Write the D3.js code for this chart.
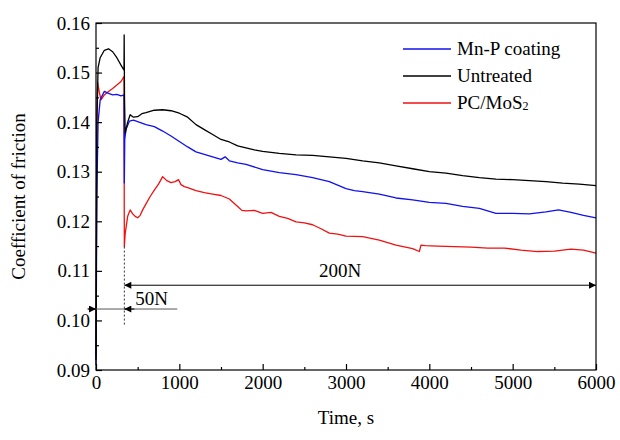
<!DOCTYPE html>
<html>
<head>
<meta charset="utf-8">
<script src="https://cdn.jsdelivr.net/npm/d3@7"></script>
<style>
  html, body { margin: 0; padding: 0; background: #fff; }
  svg { display: block; }
  text { font-family: "Liberation Serif", "Times New Roman", serif; fill: #000; }
</style>
</head>
<body>
<div id="chart"></div>
<script>
// ---- data ----
const xTicks = [0, 1000, 2000, 3000, 4000, 5000, 6000];
const yTicks = [0.09, 0.10, 0.11, 0.12, 0.13, 0.14, 0.15, 0.16];

const untreatedT = [0, 10, 25, 50, 100, 150, 200, 250, 300, 336, 338, 342, 350, 380, 410, 450, 500, 550, 600, 700, 800, 900, 1000, 1100, 1200, 1300, 1400, 1500, 1600, 1700, 1800, 1900, 2000, 2200, 2400, 2600, 2800, 3000, 3200, 3400, 3600, 3800, 4000, 4200, 4400, 4600, 4800, 5000, 5200, 5400, 5600, 5800, 6000];
const untreatedV = [0.092, 0.140, 0.151, 0.153, 0.1545, 0.1548, 0.1542, 0.1530, 0.1515, 0.1505, 0.1576, 0.145, 0.1378, 0.1400, 0.1415, 0.1410, 0.1411, 0.1417, 0.1419, 0.1424, 0.1425, 0.1423, 0.1418, 0.1410, 0.1395, 0.1385, 0.1375, 0.1365, 0.1360, 0.1352, 0.1348, 0.1344, 0.1341, 0.1337, 0.1334, 0.1333, 0.1330, 0.1327, 0.1322, 0.1318, 0.1312, 0.1306, 0.1300, 0.1297, 0.1292, 0.1288, 0.1285, 0.1284, 0.1282, 0.1280, 0.1277, 0.1275, 0.1272];

const mnpT = [0, 10, 25, 50, 100, 150, 200, 250, 300, 336, 340, 345, 360, 400, 450, 500, 600, 700, 800, 900, 1000, 1100, 1200, 1300, 1400, 1500, 1550, 1600, 1700, 1800, 2000, 2200, 2400, 2600, 2800, 3000, 3100, 3200, 3400, 3600, 3800, 4000, 4200, 4400, 4600, 4800, 5000, 5200, 5400, 5550, 5700, 5850, 6000];
const mnpV = [0.091, 0.125, 0.140, 0.1445, 0.1462, 0.1458, 0.1455, 0.1456, 0.1453, 0.1455, 0.1277, 0.1365, 0.1385, 0.1402, 0.1404, 0.1401, 0.1395, 0.1391, 0.1382, 0.1372, 0.1361, 0.1350, 0.1340, 0.1335, 0.1330, 0.1325, 0.1330, 0.1322, 0.1318, 0.1315, 0.1304, 0.1298, 0.1294, 0.1288, 0.1280, 0.1266, 0.1262, 0.1260, 0.1255, 0.1247, 0.1243, 0.1238, 0.1236, 0.1230, 0.1226, 0.1216, 0.1216, 0.1215, 0.1219, 0.1223, 0.1218, 0.1212, 0.1207];

const pcT = [0, 10, 20, 40, 60, 100, 150, 200, 250, 300, 336, 340, 350, 380, 410, 440, 470, 500, 530, 560, 600, 650, 700, 750, 800, 850, 900, 950, 990, 1020, 1060, 1100, 1200, 1300, 1400, 1500, 1600, 1700, 1750, 1800, 1900, 2000, 2100, 2200, 2300, 2400, 2500, 2600, 2700, 2800, 2900, 3000, 3200, 3400, 3600, 3800, 3880, 3900, 3950, 4100, 4300, 4500, 4700, 4900, 5100, 5300, 5500, 5700, 5850, 6000];
const pcV = [0.093, 0.140, 0.148, 0.146, 0.1445, 0.1455, 0.1462, 0.1468, 0.1475, 0.1482, 0.1492, 0.1149, 0.1175, 0.1210, 0.1223, 0.1215, 0.1210, 0.1207, 0.1212, 0.1223, 0.1235, 0.1250, 0.1263, 0.1275, 0.1290, 0.1282, 0.1278, 0.1280, 0.1284, 0.1274, 0.1270, 0.1268, 0.1262, 0.1258, 0.1255, 0.1252, 0.1245, 0.1230, 0.1222, 0.1221, 0.1222, 0.1216, 0.1218, 0.1210, 0.1206, 0.1199, 0.1197, 0.1193, 0.1185, 0.1176, 0.1174, 0.1170, 0.1169, 0.1162, 0.1152, 0.1145, 0.1139, 0.1152, 0.1151, 0.1150, 0.1149, 0.1148, 0.1146, 0.1146, 0.1142, 0.1139, 0.1140, 0.1144, 0.1142, 0.1136];

const seriesNames = ["Mn-P coating", "Untreated", "PC/MoS2"];
const seriesColors = ["#1010f0", "#000000", "#f01010"];

// annotations (data units)
const loadChangeT = 340;
const dashedFrom = 0.1149, dashedTo = 0.0991;
const arrow200Y = 0.1071, arrow200From = 340, arrow200To = 6000;
const arrow50Y = 0.1023, arrow50Left = -100, arrow50Right = 975;
const label200 = "200N", label50 = "50N";

// ---- drawing ----
const W = 620, H = 440;
const m = { left: 96, right: 24, top: 23, bottom: 70 };
const svg = d3.select("#chart").append("svg").attr("width", W).attr("height", H);

const x = d3.scaleLinear().domain([0, 6000]).range([m.left, W - m.right]);
const y = d3.scaleLinear().domain([0.09, 0.16]).range([H - m.bottom, m.top]);

const defs = svg.append("defs");
defs.append("marker").attr("id", "ah").attr("viewBox", "0 0 10 10")
  .attr("refX", 10).attr("refY", 5).attr("markerWidth", 9).attr("markerHeight", 7)
  .attr("markerUnits", "userSpaceOnUse").attr("orient", "auto-start-reverse")
  .append("path").attr("d", "M0,0 L10,5 L0,10 Z").attr("fill", "#000");

// series lines
const line = d3.line().x(d => x(d[0])).y(d => y(d[1]));
const seriesData = [
  d3.zip(mnpT, mnpV),
  d3.zip(untreatedT, untreatedV),
  d3.zip(pcT, pcV)
];
// draw order: red, blue, black so black sits near top like reference
[2, 0, 1].forEach(i => {
  svg.append("path").datum(seriesData[i])
    .attr("fill", "none").attr("stroke", seriesColors[i])
    .attr("stroke-width", 1.3).attr("stroke-linejoin", "round")
    .attr("d", line);
});

// frame
svg.append("rect").attr("x", x(0)).attr("y", y(0.16))
  .attr("width", x(6000) - x(0)).attr("height", y(0.09) - y(0.16))
  .attr("fill", "none").attr("stroke", "#000").attr("stroke-width", 1.2);

// axes
const fmtY = d3.format(".2f");
const gx = svg.append("g").attr("transform", `translate(0,${y(0.09)})`)
  .call(d3.axisBottom(x).tickValues(xTicks).tickSizeInner(-6).tickSizeOuter(0).tickPadding(6).tickFormat(d3.format("d")));
const gxm = svg.append("g").attr("transform", `translate(0,${y(0.09)})`)
  .call(d3.axisBottom(x).tickValues(d3.range(500, 6000, 1000)).tickSizeInner(-3).tickSizeOuter(0).tickFormat(""));
const gy = svg.append("g").attr("transform", `translate(${x(0)},0)`)
  .call(d3.axisLeft(y).tickValues(yTicks).tickSizeInner(-6).tickSizeOuter(0).tickPadding(6).tickFormat(fmtY));
const gym = svg.append("g").attr("transform", `translate(${x(0)},0)`)
  .call(d3.axisLeft(y).tickValues(d3.range(0.095, 0.16, 0.01)).tickSizeInner(-3).tickSizeOuter(0).tickFormat(""));
[gx, gxm, gy, gym].forEach(g => {
  g.select(".domain").remove();
  g.selectAll("line").attr("stroke", "#000").attr("stroke-width", 1.2);
  g.selectAll("text").attr("font-size", 19).attr("font-family", "Liberation Serif, serif");
});

// axis titles
svg.append("text").attr("x", (x(0) + x(6000)) / 2).attr("y", 424)
  .attr("text-anchor", "middle").attr("font-size", 19).text("Time, s");
svg.append("text").attr("transform", `translate(25,${(y(0.09) + y(0.16)) / 2}) rotate(-90)`)
  .attr("text-anchor", "middle").attr("font-size", 19).text("Coefficient of friction");

// annotations
svg.append("line").attr("x1", x(loadChangeT)).attr("x2", x(loadChangeT))
  .attr("y1", y(dashedFrom)).attr("y2", y(dashedTo))
  .attr("stroke", "#000").attr("stroke-width", 0.8).attr("stroke-dasharray", "2,2");

svg.append("line").attr("x1", x(arrow200From)).attr("x2", x(arrow200To))
  .attr("y1", y(arrow200Y)).attr("y2", y(arrow200Y))
  .attr("stroke", "#000").attr("stroke-width", 1)
  .attr("marker-start", "url(#ah)").attr("marker-end", "url(#ah)");
svg.append("text").attr("x", x(2930)).attr("y", y(arrow200Y) - 8)
  .attr("text-anchor", "middle").attr("font-size", 19).text(label200);

// 50N dimension: line through, arrowheads pointing inward at axis and dashed line
svg.append("line").attr("x1", x(arrow50Left)).attr("x2", x(arrow50Right))
  .attr("y1", y(arrow50Y)).attr("y2", y(arrow50Y))
  .attr("stroke", "#555").attr("stroke-width", 1);
svg.append("line").attr("x1", x(arrow50Left)).attr("x2", x(0))
  .attr("y1", y(arrow50Y)).attr("y2", y(arrow50Y))
  .attr("stroke", "#000").attr("stroke-width", 1).attr("marker-end", "url(#ah)");
svg.append("line").attr("x1", x(loadChangeT + 120)).attr("x2", x(loadChangeT))
  .attr("y1", y(arrow50Y)).attr("y2", y(arrow50Y))
  .attr("stroke", "#000").attr("stroke-width", 1).attr("marker-end", "url(#ah)");
svg.append("text").attr("x", x(loadChangeT + 130)).attr("y", y(arrow50Y) - 4)
  .attr("text-anchor", "start").attr("font-size", 19).text(label50);

// legend
const lg = svg.append("g");
seriesNames.forEach((name, i) => {
  const ly = 49 + i * 27;
  lg.append("line").attr("x1", 403).attr("x2", 451).attr("y1", ly).attr("y2", ly)
    .attr("stroke", seriesColors[i]).attr("stroke-width", 1.3);
  const t = lg.append("text").attr("x", 457).attr("y", ly + 6).attr("font-size", 19);
  if (name === "PC/MoS2") {
    t.append("tspan").text("PC/MoS");
    t.append("tspan").attr("font-size", 12).attr("dy", 1).text("2");
  } else {
    t.text(name);
  }
});
</script>
</body>
</html>
